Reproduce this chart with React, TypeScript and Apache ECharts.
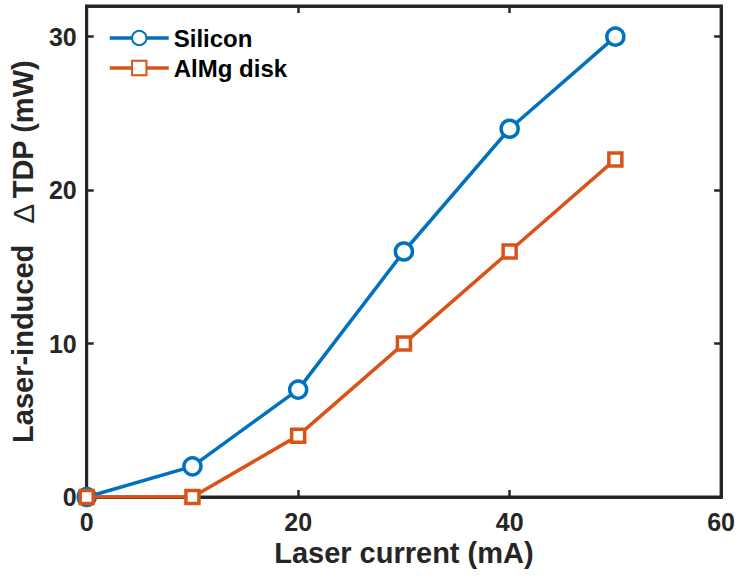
import React, { useEffect, useRef } from "react";
import * as echarts from "echarts";

const currents = [0, 10, 20, 30, 40, 50];
const silicon = [0, 2, 7, 16, 24, 30];
const almg = [0, 0, 4, 10, 16, 22];
const seriesNames = ["Silicon", "AlMg disk"];
const xTitle = "Laser current (mA)";
const yTitle = "{b|Laser-induced  }{d|\u0394}{b|TDP (mW)}";

const FONT = "'Liberation Sans', Arial, sans-serif";
const TXT = "#262626";

export default function App() {
  const ref = useRef<HTMLDivElement>(null);
  useEffect(() => {
    if (!ref.current) return;
    const chart = echarts.init(ref.current, undefined, { renderer: "svg" });
    const axisLine = { show: true, onZero: false, lineStyle: { color: TXT, width: 3 } };
    const tick = { show: true, inside: true, length: 7, lineStyle: { color: TXT, width: 2.5 } };
    chart.setOption({
      animation: false,
      backgroundColor: "#fff",
      textStyle: { fontFamily: FONT },
      grid: {
        left: 86,
        right: 15,
        top: 6,
        bottom: 83,
        show: true,
        borderColor: TXT,
        borderWidth: 3,
        backgroundColor: "transparent",
      },
      legend: {
        left: 103,
        top: 21,
        orient: "vertical",
        itemWidth: 59,
        itemHeight: 18,
        itemGap: 6,
        lineStyle: { width: 3.5 },
        textStyle: { fontFamily: FONT, fontWeight: "bold", fontSize: 24, color: "#000" },
        data: seriesNames,
      },
      xAxis: [
        {
          type: "value",
          min: 0,
          max: 60,
          interval: 20,
          name: xTitle,
          nameLocation: "middle",
          nameGap: 38,
          nameTextStyle: { fontFamily: FONT, fontWeight: "bold", fontSize: 29, color: TXT },
          axisLine,
          axisTick: tick,
          splitLine: { show: false },
          axisLabel: { fontFamily: FONT, fontWeight: "bold", fontSize: 25, color: TXT, margin: 12 },
        },
        {
          type: "value",
          position: "top",
          min: 0,
          max: 60,
          interval: 20,
          axisLine,
          axisTick: tick,
          axisLabel: { show: false },
          splitLine: { show: false },
        },
      ],
      yAxis: [
        {
          type: "value",
          min: 0,
          max: 32,
          interval: 10,
          name: yTitle,
          nameLocation: "middle",
          nameGap: 48,
          nameTextStyle: {
            fontFamily: FONT,
            color: TXT,
            rich: {
              b: { fontFamily: FONT, fontWeight: "bold", fontSize: 29, color: TXT },
              d: {
                fontFamily: FONT,
                fontWeight: "normal",
                fontSize: 30,
                color: TXT,
                padding: [0, 5, 0, 5],
              },
            },
          },
          axisLine,
          axisTick: tick,
          splitLine: { show: false },
          axisLabel: {
            fontFamily: FONT,
            fontWeight: "bold",
            fontSize: 25,
            color: TXT,
            margin: 10,
            showMaxLabel: false,
          },
        },
        {
          type: "value",
          position: "right",
          min: 0,
          max: 32,
          interval: 10,
          axisLine,
          axisTick: tick,
          axisLabel: { show: false },
          splitLine: { show: false },
        },
      ],
      series: [
        {
          name: seriesNames[0],
          type: "line",
          data: currents.map((x, i) => [x, silicon[i]]),
          symbol: "circle",
          symbolSize: 17,
          showAllSymbol: true,
          lineStyle: { color: "#0072BD", width: 3.5 },
          itemStyle: { color: "#fff", borderColor: "#0072BD", borderWidth: 3.5 },
          z: 3,
        },
        {
          name: seriesNames[1],
          type: "line",
          data: currents.map((x, i) => [x, almg[i]]),
          symbol: "rect",
          symbolSize: 13,
          showAllSymbol: true,
          lineStyle: { color: "#D95319", width: 3.5 },
          itemStyle: { color: "#fff", borderColor: "#D95319", borderWidth: 3.5 },
          z: 4,
        },
      ],
    });
    return () => chart.dispose();
  }, []);
  return (
    <div
      ref={ref}
      style={{ position: "fixed", left: 0, top: 0, width: 738, height: 580 }}
    />
  );
}
